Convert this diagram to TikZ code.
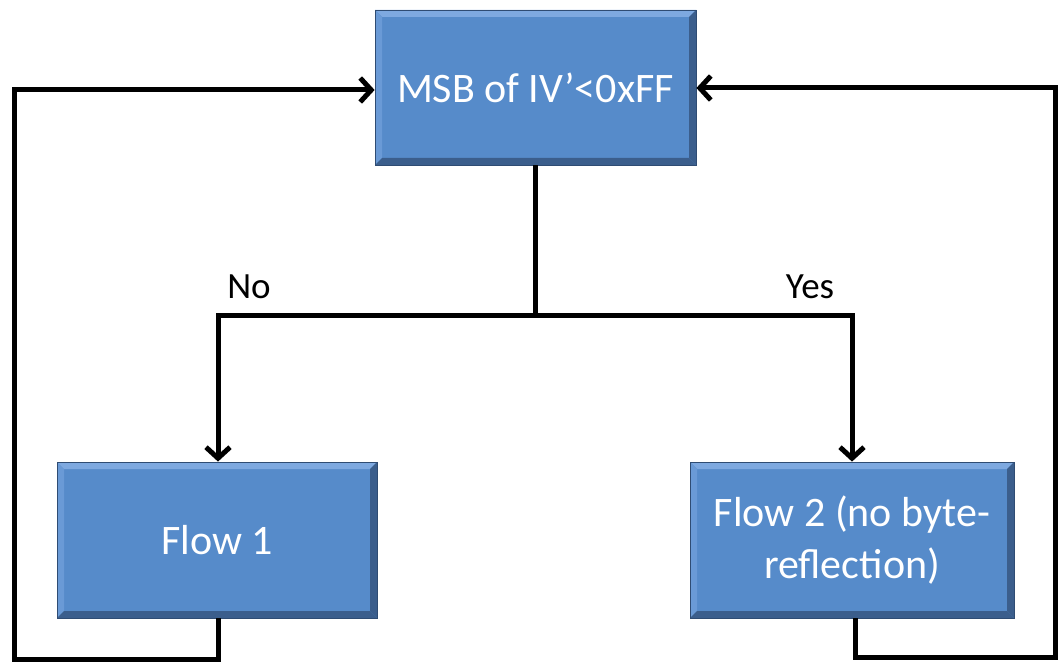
\documentclass[tikz,border=0pt]{standalone}
\usepackage{fontspec}
\setmainfont{Carlito}
\usetikzlibrary{arrows.meta}
\definecolor{boxblue}{HTML}{568BCA}
\definecolor{bevlight}{HTML}{7EA9E0}
\definecolor{bevside}{HTML}{6A9AD6}
\definecolor{bevdark}{HTML}{3B5E8C}
\definecolor{bevedge}{HTML}{2F4C73}
\tikzset{
  box/.style={
    rectangle, fill=boxblue, draw=bevedge, line width=0.8pt,
    text=white, font=\fontsize{42}{52}\selectfont, align=center,
    inner sep=0pt,
    path picture={
      \fill[bevlight] (path picture bounding box.north west) -- (path picture bounding box.north east)
        -- ([shift={(-7pt,-7pt)}]path picture bounding box.north east)
        -- ([shift={(7pt,-7pt)}]path picture bounding box.north west) -- cycle;
      \fill[bevside] (path picture bounding box.north west) -- (path picture bounding box.south west)
        -- ([shift={(7pt,7pt)}]path picture bounding box.south west)
        -- ([shift={(7pt,-7pt)}]path picture bounding box.north west) -- cycle;
      \fill[bevdark] (path picture bounding box.south west) -- (path picture bounding box.south east)
        -- ([shift={(-7pt,7pt)}]path picture bounding box.south east)
        -- ([shift={(7pt,7pt)}]path picture bounding box.south west) -- cycle;
      \fill[bevdark] (path picture bounding box.north east) -- (path picture bounding box.south east)
        -- ([shift={(-7pt,7pt)}]path picture bounding box.south east)
        -- ([shift={(-7pt,-7pt)}]path picture bounding box.north east) -- cycle;
    }
  },
  link/.style={line width=5pt, draw=black},
  arrowlink/.style={link, -{Straight Barb[length=11pt,width=24pt,line width=5pt]}},
  lbl/.style={font=\fontsize{37}{44}\selectfont, text=black}
}
\begin{document}
\begin{tikzpicture}[x=1pt,y=-1pt]
\useasboundingbox (0,0) rectangle (1058,663);

% decision and the two flows
\node[box, minimum width=321pt, minimum height=155pt] (dec) at (535.5,87.5) {MSB of IV’<0xFF};
\node[box, minimum width=320pt, minimum height=156pt] (f1) at (217,540) {Flow 1};
\node[box, minimum width=324pt, minimum height=156pt] (f2) at (852,540) {Flow 2 (no byte-\\reflection)};

% branching
\coordinate (split) at (535.5,315);
\coordinate (nocorner) at (218,315);
\coordinate (yescorner) at (852,315);
\draw[link] (dec.south) -- (split);
\draw[arrowlink] (split) -- (nocorner) -- (f1.north -| nocorner);
\draw[arrowlink] (split) -- (yescorner) -- (f2.north -| yescorner);
\node[lbl] (no) at (249,287) {No};
\node[lbl] (yes) at (810,287) {Yes};

% loops back to the decision
\coordinate (l1) at (218,659);
\coordinate (l2) at (14,659);
\coordinate (l3) at (14,90);
\draw[arrowlink, line join=miter] (f1.south -| l1) -- (l1) -- (l2) -- (l3) -- (dec.west |- l3);
\coordinate (r1) at (855,657);
\coordinate (r2) at (1055,657);
\coordinate (r3) at (1055,88);
\draw[arrowlink, line join=miter] (f2.south -| r1) -- (r1) -- (r2) -- (r3) -- (dec.east |- r3);
\end{tikzpicture}
\end{document}
